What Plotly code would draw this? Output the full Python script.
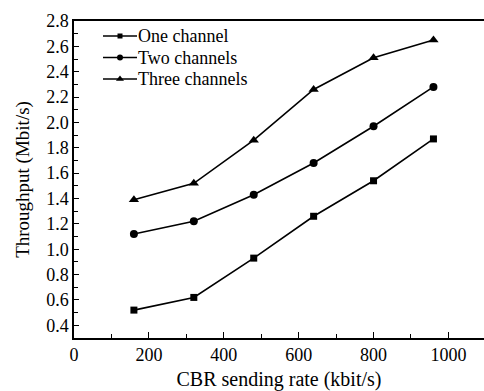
import plotly.graph_objects as go

# CBR sending rate (kbit/s)
rate = [160, 320, 480, 640, 800, 960]

# Throughput (Mbit/s) for each channel configuration
one_channel = [0.52, 0.62, 0.93, 1.26, 1.54, 1.87]
two_channels = [1.12, 1.22, 1.43, 1.68, 1.97, 2.28]
three_channels = [1.39, 1.52, 1.86, 2.26, 2.51, 2.65]

series = [
    ("One channel", one_channel, "square", 7, 5),
    ("Two channels", two_channels, "circle", 8, 6),
    ("Three channels", three_channels, "triangle-up", 9, 7),
]

FONT = "Liberation Serif, Times New Roman, serif"
W, H = 484, 391
M_L, M_R, M_T, M_B = 74, 0, 21, 53
PLOT_W = W - M_L - M_R
PLOT_H = H - M_T - M_B


def fx(px):
    """Horizontal pixel offset -> fraction of the plotting area."""
    return (px - M_L) / PLOT_W


def fy(py):
    """Vertical pixel offset -> fraction of the plotting area."""
    return (H - M_B - py) / PLOT_H


fig = go.Figure()
for name, values, symbol, size, _ in series:
    fig.add_trace(go.Scatter(
        x=rate, y=values, name=name, mode="lines+markers",
        line=dict(color="black", width=1.6),
        marker=dict(symbol=symbol, size=size, color="black"),
        showlegend=False,
    ))

# Compact legend in the upper-left corner: a key line with marker, then the label
key_x0, key_x1, text_x = 103, 137, 137
row_y0, row_step = 36, 21.5
for i, (name, _, symbol, _, key_size) in enumerate(series):
    ry = fy(row_y0 + i * row_step)
    fig.add_trace(go.Scatter(
        x=[fx(key_x0), fx(key_x1)], y=[ry, ry], mode="lines",
        line=dict(color="black", width=1.4),
        xaxis="x2", yaxis="y2", showlegend=False, hoverinfo="skip",
    ))
    fig.add_trace(go.Scatter(
        x=[(fx(key_x0) + fx(key_x1)) / 2], y=[ry], mode="markers",
        marker=dict(symbol=symbol, size=key_size, color="black"),
        xaxis="x2", yaxis="y2", showlegend=False, hoverinfo="skip",
    ))
    fig.add_annotation(
        x=fx(text_x), y=ry, xref="x2", yref="y2", text=name, showarrow=False,
        xanchor="left", yanchor="middle", borderpad=0,
        font=dict(family=FONT, size=18, color="black"),
    )

fig.update_layout(
    width=W, height=H,
    margin=dict(l=M_L, r=M_R, t=M_T, b=M_B),
    paper_bgcolor="white", plot_bgcolor="white",
    font=dict(family=FONT, size=18, color="black"),
    xaxis=dict(
        range=[0, 1095], tickvals=[0, 200, 400, 600, 800, 1000],
        ticks="inside", ticklen=6, tickwidth=1.2, tickcolor="black",
        minor=dict(dtick=100, tick0=0, ticks="inside", ticklen=4, tickwidth=1.2, tickcolor="black"),
        showline=True, linecolor="black", linewidth=1.5, mirror=True,
        showgrid=False, zeroline=False,
        tickfont=dict(family=FONT, size=18),
        title=dict(text="CBR sending rate (kbit/s)", font=dict(family=FONT, size=20), standoff=8),
    ),
    yaxis=dict(
        range=[0.3, 2.8],
        tickvals=[0.4, 0.6, 0.8, 1.0, 1.2, 1.4, 1.6, 1.8, 2.0, 2.2, 2.4, 2.6, 2.8],
        ticktext=["0.4", "0.6", "0.8", "1.0", "1.2", "1.4", "1.6", "1.8", "2.0", "2.2", "2.4", "2.6", "2.8"],
        ticks="inside", ticklen=5, tickwidth=1.2, tickcolor="black",
        minor=dict(dtick=0.1, tick0=0.3, ticks="inside", ticklen=4, tickwidth=1.2, tickcolor="black"),
        showline=True, linecolor="black", linewidth=1.5, mirror=False,
        showgrid=False, zeroline=False,
        tickfont=dict(family=FONT, size=18),
        title=dict(text="Throughput (Mbit/s)", font=dict(family=FONT, size=19), standoff=12),
    ),
    xaxis2=dict(overlaying="x", range=[0, 1], visible=False),
    yaxis2=dict(overlaying="y", range=[0, 1], visible=False),
)

fig.write_html("out.html")
